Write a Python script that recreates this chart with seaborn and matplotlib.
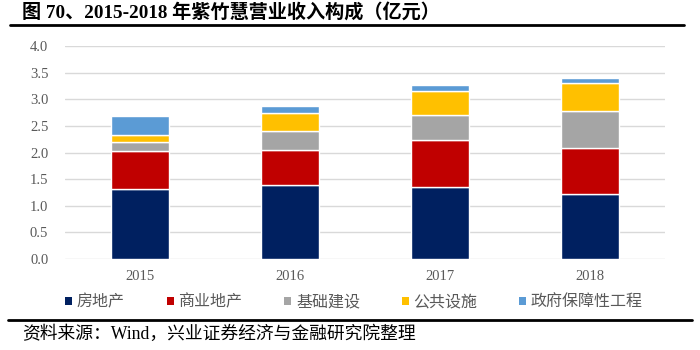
import matplotlib
matplotlib.use("Agg")
import matplotlib.pyplot as plt
import seaborn as sns
import numpy as np
from matplotlib.lines import Line2D
from matplotlib.patches import Patch

years = ["2015", "2016", "2017", "2018"]
real_estate = [1.31, 1.39, 1.35, 1.22]
commercial = [0.72, 0.65, 0.88, 0.86]
infrastructure = [0.17, 0.36, 0.47, 0.69]
public_facilities = [0.13, 0.34, 0.46, 0.54]
gov_projects = [0.36, 0.14, 0.10, 0.08]

series_names = ["房地产", "商业地产", "基础建设", "公共设施", "政府保障性工程"]
series_values = [real_estate, commercial, infrastructure, public_facilities, gov_projects]
colors = ["#002060", "#C00000", "#A5A5A5", "#FFC000", "#5B9BD5"]

sns.set_theme(style="white")
plt.rcParams['font.family'] = ['Liberation Serif', 'Noto Sans CJK SC', 'DejaVu Sans']

fig = plt.figure(figsize=(7, 3.5), dpi=100)
ax = fig.add_axes([65/700, 1-259/350, 600/700, 213/350])

bottom = np.zeros(len(years))
for name, vals, c in zip(series_names, series_values, colors):
    sns.barplot(x=years, y=vals, bottom=bottom, color=c, width=0.39,
                ax=ax, label=name, zorder=3, saturation=1)
    bottom = bottom + np.array(vals)

ax.set_ylim(0, 4.0)
ax.set_xlim(-0.5, 3.5)
ax.set_yticks(np.arange(0, 4.01, 0.5))
ax.set_yticklabels([f"{v:.1f}" for v in np.arange(0, 4.01, 0.5)])
ax.yaxis.grid(True, color="#D9D9D9", linewidth=1, zorder=0)
ax.xaxis.grid(False)
for s in ["top", "right", "left", "bottom"]:
    ax.spines[s].set_visible(False)
ax.tick_params(axis="both", length=0, labelsize=10.5, colors="#595959")
ax.tick_params(axis="y", pad=12)
ax.tick_params(axis="x", pad=8)
ax.set_xlabel("")
ax.set_ylabel("")
if ax.get_legend():
    ax.get_legend().remove()

handles = [Patch(facecolor=c, edgecolor="none") for c in colors]
leg = fig.legend(handles, series_names, loc="center",
                 ncol=5, frameon=False, handlelength=0.45, handleheight=0.45,
                 handletextpad=0.3, columnspacing=2.6,
                 prop={"family": ["Noto Sans CJK SC"], "size": 11.5})
leg.set_bbox_to_anchor((354/700, 1-302/350), transform=fig.transFigure)
for t in leg.get_texts():
    t.set_color("#595959")

fig.text(22/700, 1-12/350, "图 70、2015-2018 年紫竹慧营业收入构成（亿元）",
         fontsize=13.8, fontweight="bold", va="center", ha="left", color="#000000",
         family=['Liberation Serif', 'Noto Sans CJK SC'])
fig.add_artist(Line2D([10/700, 684/700], [1-25/350, 1-25/350], color="black",
                      linewidth=2, transform=fig.transFigure))
fig.add_artist(Line2D([8/700, 692/700], [1-320/350, 1-320/350], color="black",
                      linewidth=2, transform=fig.transFigure))
fig.text(22/700, 1-334/350, "资料来源：Wind，兴业证券经济与金融研究院整理",
         fontsize=12.8, va="center", ha="left", color="#000000",
         family=['Liberation Serif', 'Noto Sans CJK SC'])

fig.savefig("out.png", dpi=100)
